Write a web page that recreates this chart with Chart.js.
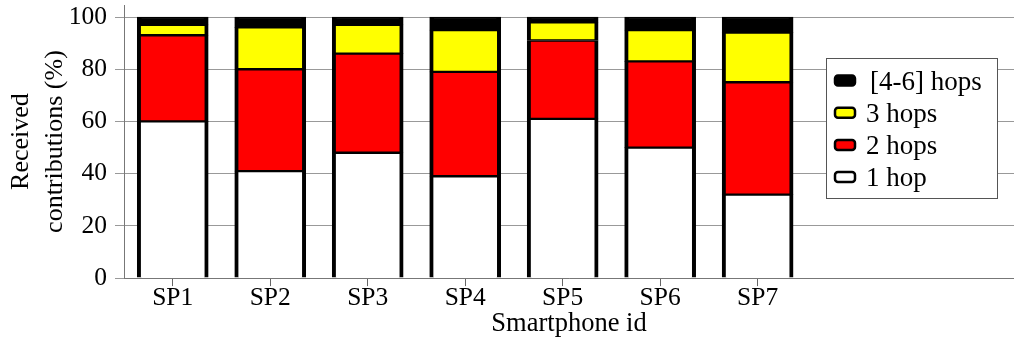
<!DOCTYPE html>
<html>
<head>
<meta charset="utf-8">
<script src="https://cdn.jsdelivr.net/npm/chart.js@4/dist/chart.umd.min.js"></script>
<style>
  html, body { margin: 0; padding: 0; background: #fff; overflow: hidden; }
  #wrap { width: 1014px; height: 351px; }
</style>
</head>
<body>
<div id="wrap"><canvas id="hopsChart"></canvas></div>
<script>
// Smartphones on the x axis
const phones = ['SP1', 'SP2', 'SP3', 'SP4', 'SP5', 'SP6', 'SP7'];

// Share of received contributions (%) per hop count
const oneHop = [60, 41, 48, 39, 61, 50, 32];
const twoHops = [33, 39, 38, 40, 30, 33, 43];
const threeHops = [4, 16, 11, 16, 7, 12, 19];
const fourToSixHops = [3, 4, 3, 5, 2, 5, 6];

const yTicks = [0, 20, 40, 60, 80, 100];

const serif = "'Liberation Serif', 'Times New Roman', serif";

// bars sit at x = 1..7 on a linear axis so the plot can run past SP7 like the original
function toPoints(values) {
    return values.map((v, i) => ({ x: i + 1, y: v }));
}

function makeSet(label, values, color, bottom) {
    return {
        label: label,
        data: toPoints(values),
        backgroundColor: color,
        borderColor: '#000',
        borderWidth: { top: 1.5, bottom: bottom, left: 4, right: 4 },
        borderSkipped: false,
        barThickness: 71
    };
}

// Legend drawn inside the plot, top entry first like the original
const boxLegend = {
    id: 'boxLegend',
    afterDraw(chart) {
        const ctx = chart.ctx;
        ctx.save();
        ctx.fillStyle = '#fff';
        ctx.strokeStyle = '#555';
        ctx.lineWidth = 1;
        ctx.fillRect(826.5, 58.5, 171, 140);
        ctx.strokeRect(826.5, 58.5, 171, 140);

        const sets = chart.data.datasets.slice().reverse();
        sets.forEach((ds, i) => {
            const cy = 80.5 + i * 32.2;
            ctx.beginPath();
            ctx.roundRect(835, cy - 5, 20, 10, 3);
            ctx.fillStyle = ds.backgroundColor;
            ctx.fill();
            ctx.lineWidth = 2.5;
            ctx.strokeStyle = '#000';
            ctx.stroke();

            ctx.fillStyle = '#000';
            ctx.font = '27px ' + serif;
            ctx.textBaseline = 'alphabetic';
            ctx.textAlign = 'left';
            ctx.fillText(ds.label, i === 0 ? 870 : 866, cy + 9);
        });
        ctx.restore();
    }
};

const ctxBars = document.getElementById('hopsChart').getContext('2d');

const hopsChart = new Chart(ctxBars, {
    type: 'bar',
    data: {
        datasets: [
            makeSet('1 hop', oneHop, '#ffffff', 0),
            makeSet('2 hops', twoHops, '#ff0000', 1.5),
            makeSet('3 hops', threeHops, '#ffff00', 1.5),
            makeSet('[4-6] hops', fourToSixHops, '#000000', 1.5)
        ]
    },
    options: {
        responsive: true,
        maintainAspectRatio: false,
        animation: false,
        layout: {
            padding: { top: 5, right: 0, bottom: 14, left: 0 }
        },
        plugins: {
            legend: { display: false },
            tooltip: { enabled: false }
        },
        scales: {
            x: {
                type: 'linear',
                stacked: true,
                offset: false,
                min: 0.5,
                max: 9.63, // axis keeps going past SP7 in the original
                border: { color: '#777', width: 1 },
                grid: {
                    offset: false,
                    drawOnChartArea: false,
                    tickLength: 8,
                    color: (c) => (c.tick && c.tick.value <= phones.length ? '#666' : 'rgba(0,0,0,0)')
                },
                ticks: {
                    stepSize: 1,
                    includeBounds: false,
                    autoSkip: false,
                    maxRotation: 0,
                    padding: 2,
                    color: '#000',
                    font: { family: serif, size: 25.5, lineHeight: 0.8 },
                    callback: (value) => phones[value - 1] || ''
                },
                title: {
                    display: true,
                    text: 'Smartphone id',
                    color: '#000',
                    padding: { top: 0, bottom: 0 },
                    font: { family: serif, size: 26.5, lineHeight: 1.0 }
                }
            },
            y: {
                stacked: true,
                min: 0,
                max: 104.6,
                afterBuildTicks: (scale) => {
                    scale.ticks = yTicks.map((v) => ({ value: v }));
                },
                // keep the plot's left edge where the original has it, and let the
                // axis run a little above 100 without extra room for the top label
                afterFit: (scale) => {
                    scale.width = 124;
                    scale.paddingTop = 0;
                },
                border: { color: '#777', width: 1 },
                grid: {
                    color: '#999',
                    tickLength: 9,
                    lineWidth: 1
                },
                ticks: {
                    padding: 8,
                    color: '#000',
                    font: { family: serif, size: 25.5 }
                },
                title: {
                    display: true,
                    text: ['Received', 'contributions (%)'],
                    color: '#000',
                    padding: { top: 4, bottom: 0 },
                    font: { family: serif, size: 26, lineHeight: 1.3 }
                }
            }
        }
    },
    plugins: [boxLegend]
});
</script>
</body>
</html>
